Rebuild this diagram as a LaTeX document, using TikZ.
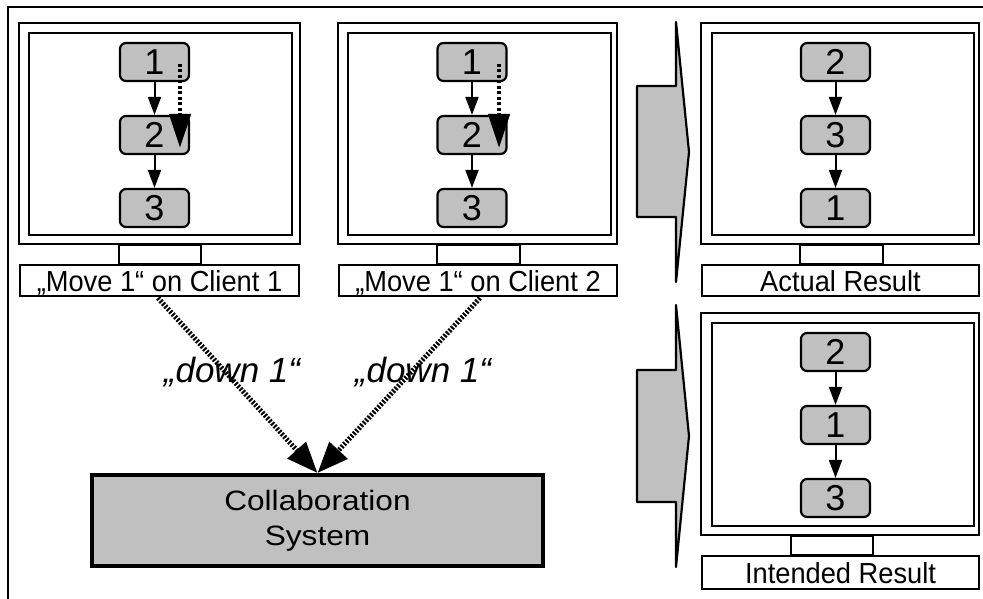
\documentclass[tikz,border=0pt]{standalone}
\usepackage{fontspec}
\setmainfont{Liberation Sans}
\newfontfamily\capfont{Liberation Sans}[FakeStretch=0.94]
\newfontfamily\wideFont{Liberation Sans}[FakeStretch=1.13]
\usetikzlibrary{positioning}
\usetikzlibrary{arrows.meta}

\definecolor{boxgray}{HTML}{C0C0C0}

\tikzset{
  frame/.style={draw,line width=2.2pt,inner sep=0pt},
  item/.style={draw,line width=2.2pt,fill=boxgray,rounded corners=6pt,inner sep=0pt,
    minimum width=69pt,minimum height=38pt,text height=25.8pt,text depth=0pt,
    font=\fontsize{36}{36}\selectfont},
  caption/.style={frame,font=\capfont\fontsize{29}{29}\selectfont,text height=21pt,text depth=0pt},
  link/.style={line width=2pt,-{Triangle[length=18pt,width=13pt]}},
  move/.style={line width=4.5pt,dash pattern=on 3pt off 2.5pt,-{Triangle[length=34pt,width=21pt]}},
  send/.style={line width=5pt,dash pattern=on 2pt off 1.6pt,-{Triangle[length=31pt,width=24pt]}},
  chevron/.style={draw,line width=2.2pt,fill=boxgray,line join=round}
}

\begin{document}
\begin{tikzpicture}[x=1pt,y=-1pt]
\useasboundingbox (0,0) rectangle (983,599);

% outer frame
\draw[line width=2.2pt] (8,599) -- (8,7) -- (983,7);

% client 1
\node[frame,minimum width=281pt,minimum height=221pt](screenA) at (159.5,133.5){};
\node[frame,minimum width=263pt,minimum height=202pt](innerA) at (160.5,134){};
\node[frame,minimum width=82pt,minimum height=19pt](neckA) at (160,254.5){};
\node[caption,minimum width=279pt,minimum height=31pt](labelA) at (159.5,280.5){„Move 1“ on Client 1};
\node[item](a1) at (154.5,62){1};
\node[item](a2) at (154.5,135){2};
\node[item](a3) at (154.5,208){3};
\coordinate (mvA) at (180,64);
\coordinate (mvAend) at (180,148);

% client 2
\node[frame,minimum width=279pt,minimum height=221pt](screenB) at (477.5,133.5){};
\node[frame,minimum width=263pt,minimum height=202pt](innerB) at (479.5,134){};
\node[frame,minimum width=83pt,minimum height=19pt](neckB) at (478.5,254.5){};
\node[caption,minimum width=278pt,minimum height=31pt](labelB) at (478,280.5){„Move 1“ on Client 2};
\node[item](b1) at (472,62){1};
\node[item](b2) at (472,135){2};
\node[item](b3) at (472,208){3};
\coordinate (mvB) at (499,64);
\coordinate (mvBend) at (499,148);

% actual result
\node[frame,minimum width=278pt,minimum height=221pt](screenC) at (840,133.5){};
\node[frame,minimum width=262pt,minimum height=202pt](innerC) at (843,134){};
\node[frame,minimum width=83pt,minimum height=19pt](neckC) at (841.5,254.5){};
\node[caption,minimum width=277pt,minimum height=31pt](labelC) at (840.5,280.5){Actual Result};
\node[item](c2) at (835.5,62){2};
\node[item](c3) at (835.5,135){3};
\node[item](c1) at (835.5,208){1};

% intended result
\node[frame,minimum width=278pt,minimum height=222pt](screenD) at (840,424){};
\node[frame,minimum width=262pt,minimum height=203pt](innerD) at (843,424.5){};
\node[frame,minimum width=82pt,minimum height=19pt](neckD) at (832,545.5){};
\node[caption,minimum width=277pt,minimum height=33pt](labelD) at (840.5,572.5){Intended Result};
\node[item](d2) at (835.5,352){2};
\node[item](d1) at (835.5,425){1};
\node[item](d3) at (835.5,498){3};

% server
\node[draw,line width=4pt,fill=boxgray,minimum width=451pt,minimum height=91pt,
  align=center,font=\wideFont\fontsize{28}{35}\selectfont](collab) at (317.5,520.5){Collaboration\\System};
\coordinate (sendA) at (158,298);
\coordinate (sendB) at (480,298);

% transitions
\draw[chevron] (637,86) -- (676,86) -- (676,22) -- (689,152) -- (676,282) -- (676,217) -- (637,217) -- cycle;
\draw[chevron] (637,370) -- (676,370) -- (676,305) -- (689,436) -- (676,567) -- (676,502) -- (637,502) -- cycle;

\path
(a1) edge[link] (a2)
(a2) edge[link] (a3)
(b1) edge[link] (b2)
(b2) edge[link] (b3)
(c2) edge[link] (c3)
(c3) edge[link] (c1)
(d2) edge[link] (d1)
(d1) edge[link] (d3)
(mvA) edge[move] (mvAend)
(mvB) edge[move] (mvBend)
(sendA) edge[send] (collab.north)
(sendB) edge[send] (collab.north);

\node[anchor=base,font=\fontsize{35}{35}\itshape](downA) at (232,382){„down 1“};
\node[anchor=base,font=\fontsize{35}{35}\itshape](downB) at (423,382){„down 1“};
\end{tikzpicture}
\end{document}
